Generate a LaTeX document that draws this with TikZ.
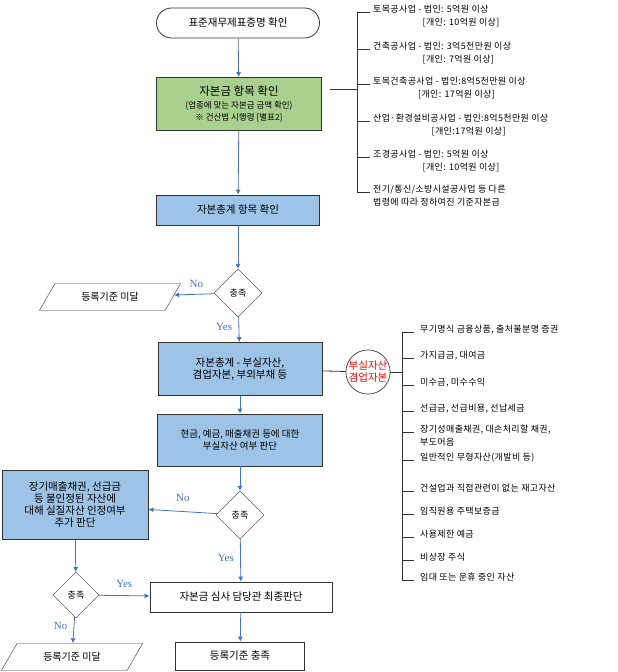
\documentclass[tikz,border=0pt]{standalone}
\usepackage{fontspec}
\setmainfont{Noto Sans CJK KR}
\newfontfamily\listfont[LetterSpace=4]{Noto Sans CJK KR}
\newfontfamily\ynfont{Liberation Serif}
\usetikzlibrary{shapes.geometric,arrows.meta}
\definecolor{flowblue}{RGB}{68,114,196}
\definecolor{greenbox}{RGB}{169,208,142}
\definecolor{bluebox}{RGB}{157,195,230}
\tikzset{
  box/.style={draw=black!80, thick, align=center, font=\fontsize{10.5}{12.5}\selectfont, inner sep=2pt},
  gbox/.style={box, fill=greenbox},
  bbox/.style={box, fill=bluebox},
  wbox/.style={box, fill=white},
  decide/.style={draw=black!80, diamond, aspect=1, minimum width=48pt, minimum height=48pt, inner sep=0pt, font=\fontsize{9}{11}\selectfont},
  para/.style={draw=black!80, trapezium, trapezium left angle=60, trapezium right angle=120, font=\fontsize{10}{12}\selectfont, minimum height=27pt},
  flow/.style={flowblue, thick, -{Latex[length=5pt,width=5pt]}},
  yn/.style={font=\fontsize{11}{12}\ynfont},
  item/.style={anchor=north west, align=left, inner sep=0pt, font=\fontsize{9}{12.5}\listfont},
  brace/.style={black!80, thick}
}
\begin{document}
\begin{tikzpicture}[x=1pt,y=-1pt]
    \useasboundingbox (0,0) rectangle (618,672);

    % main column
    \node[draw=black!80, thick, rounded corners=15pt, minimum width=163pt, minimum height=30pt, font=\fontsize{10.5}{12}\selectfont] (start) at (238,23) {표준재무제표증명 확인};
    \node[gbox, minimum width=165pt, minimum height=53pt] (cap) at (239,104)
        {{\fontsize{11.5}{13}\selectfont 자본금 항목 확인}\\{\fontsize{8.5}{10}\selectfont (업종에 맞는 자본금 금액 확인)}\\{\fontsize{8.5}{10}\selectfont ※ 건산법 시행령 [별표2]}};
    \node[bbox, minimum width=163pt, minimum height=30pt] (total) at (238,210) {자본총계 항목 확인};
    \node[decide] (ok1) at (238,293) {충족};
    \node[para, minimum width=88pt] (fail1) at (110,297) {등록기준 미달};
    \node[bbox, minimum width=164pt, minimum height=53pt] (calc) at (240,369) {자본총계 - 부실자산,\\겸업자본, 부외부채 등};
    \node[bbox, minimum width=165pt, minimum height=52pt, font=\fontsize{9.5}{12}\selectfont] (judge) at (240,440) {현금, 예금, 매출채권 등에 대한\\부실자산 여부 판단};
    \node[decide] (ok2) at (240,515) {충족};
    \node[bbox, minimum width=146pt, minimum height=69pt, font=\fontsize{10.5}{12}\selectfont] (extra) at (75,505) {장기매출채권, 선급금\\등 불인정된 자산에\\대해 실질자산 인정여부\\추가 판단};
    \node[decide, minimum width=46pt, minimum height=46pt] (ok3) at (76,595) {충족};
    \node[wbox, minimum width=182pt, minimum height=30pt] (final) at (241,597) {자본금 심사 담당관 최종판단};
    \node[wbox, minimum width=129pt, minimum height=28pt] (pass) at (240,656) {등록기준 충족};
    \node[para, minimum width=100pt] (fail2) at (72,657) {등록기준 미달};

    \draw[flow] (start) -- (cap);
    \draw[flow] (cap) -- (total);
    \draw[flow] (total) -- (ok1);
    \draw[flow] (ok1) -- (fail1) node[yn, pos=0.45, above=3pt] (no1) {No};
    \draw[flow] (ok1) -- (calc) node[yn, pos=0.4, left=3pt] (yes1) {Yes};
    \draw[flow] (calc) -- (judge);
    \draw[flow] (judge) -- (ok2);
    \draw[flow] (ok2) -- (extra) node[yn, pos=0.5, above=6pt] (no2) {No};
    \draw[flow] (ok2) -- (final) node[yn, pos=0.45, left=3pt] (yes2) {Yes};
    \draw[flow] (extra) -- (ok3);
    \draw[flow] (ok3) -- (final) node[yn, pos=0.5, above=4pt] (yes3) {Yes};
    \draw[flow] (ok3) -- (fail2) node[yn, pos=0.35, left=3pt] (no3) {No};
    \draw[flow] (final) -- (pass);

    % capital requirements list
    \coordinate (b1) at (357,89);
    \draw[brace] (cap.east |- b1) ++(8,0) -- (b1);
    \draw[brace] (357,12) -- (357,192);
    \foreach \y/\txt in {12/{토목공사업 - 법인: 5억원 이상\\\hspace*{5.5em}[개인: 10억원 이상]},
                         49/{건축공사업 - 법인: 3억5천만원 이상\\\hspace*{5.5em}[개인: 7억원 이상]},
                         84/{토목건축공사업 - 법인:8억5천만원 이상\\\hspace*{5em}[개인: 17억원 이상]},
                         121/{산업·환경설비공사업 - 법인:8억5천만원 이상\\\hspace*{6.5em}[개인:17억원 이상]},
                         157/{조경공사업 - 법인: 5억원 이상\\\hspace*{5.5em}[개인: 10억원 이상]},
                         192/{전기/통신/소방시설공사업 등 다른\\법령에 따라 정하여진 기준자본금}} {
        \draw[brace] (357,\y) -- (370,\y);
        \node[item] at (373,\y-7) {\txt};
    }

    % bad assets list
    \node[draw=black!70, thick, circle, minimum size=44pt, inner sep=0pt, align=center, text=red, font=\fontsize{10.5}{12}\selectfont] (bad) at (368,372) {부실자산\\겸업자본};
    \draw[brace] (calc) -- (bad);
    \coordinate (b2) at (402,372);
    \draw[brace] (bad) -- (b2);
    \draw[brace] (402,332) -- (402,580);
    \foreach \y/\txt in {332/{무기명식 금융상품, 출처불분명 증권},
                         358/{가지급금, 대여금},
                         385/{미수금, 미수수익},
                         411/{선급금, 선급비용, 선납세금},
                         432/{장기성매출채권, 대손처리할 채권,\\부도어음},
                         460/{일반적인 무형자산(개발비 등)},
                         491/{건설업과 직접관련이 없는 재고자산},
                         514/{임직원용 주택보증금},
                         537/{사용제한 예금},
                         560/{비상장 주식},
                         580/{임대 또는 운휴 중인 자산}} {
        \draw[brace] (402,\y) -- (414,\y);
        \node[item] at (420,\y-7) {\txt};
    }

\end{tikzpicture}
\end{document}
